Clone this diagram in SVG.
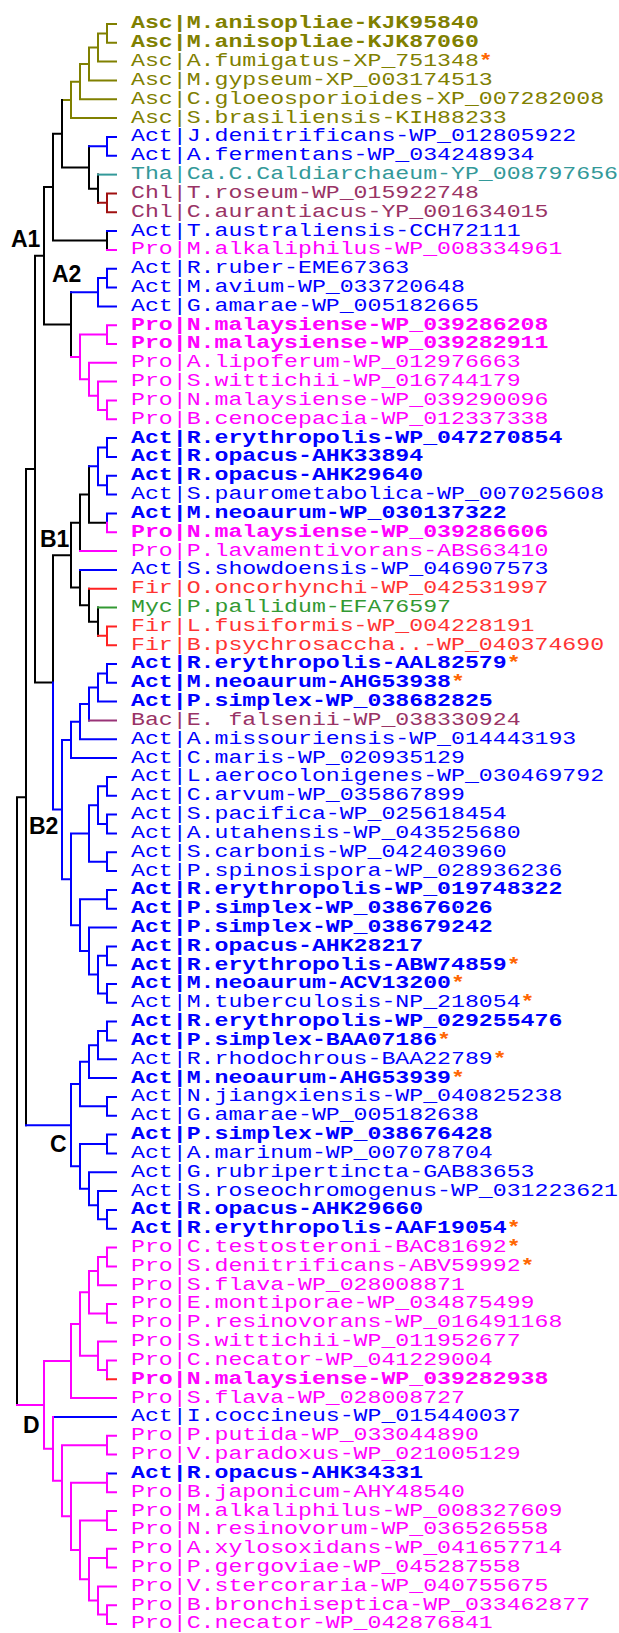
<svg xmlns="http://www.w3.org/2000/svg" width="619" height="1633" viewBox="0 0 619 1633">
<style>
.e{fill:none;stroke-width:2;stroke-linecap:square}
.k{stroke:#000}.ol{stroke:#808000}.bl{stroke:#0000ff}.mg{stroke:#ff00ff}.cr{stroke:#a01010}.tl{stroke:#339999}.rd{stroke:#ff2222}.gr{stroke:#339933}.pu{stroke:#993377}
.t{font-family:"Liberation Mono","DejaVu Sans Mono",monospace;font-size:18px}
.b{font-weight:bold}
.asc{fill:#808000}.act{fill:#0000ff}.pro{fill:#ff00ff}.tha{fill:#339999}.chl{fill:#993366}.fir{fill:#ff3333}.myc{fill:#339933}.bac{fill:#993366}
.s{fill:#ff6600;font-weight:bold}
.lab{font-family:"Liberation Sans Narrow","Liberation Sans",Arial,sans-serif;font-weight:bold;font-size:23px;fill:#000}
</style>
<rect width="619" height="1633" fill="#fff"/>
<g id="connectors">
<path class="e ol" d="M107 24V42.8M98 33.4V61.6M89 47.5V80.5M80 64V99.3M71 81.65V118.1M107 24H116M107 42.8H116M98 33.4H107M98 61.6H116M89 47.5H98M89 80.5H116M80 64H89M80 99.3H116M71 81.65H80M71 118.1H116M62 99.9H71"/>
<path class="e k" d="M62 99.9V167.5M62 167.5H89M89 146.35V188.7M89 188.7H98M98 174.6V202.8M53 133.7V240.5M53 133.7H62M53 240.5H107M107 231.1V249.9M44 187.1V324.6M44 187.1H53M44 324.6H71M71 292.25V356.95M35 255.85V682.4M35 255.85H44M35 682.4H53M53 555.2V682.4M53 555.2H71M71 522.85V587.55M71 522.85H80M80 494.6V551.1M80 494.6H89M89 466.35V522.8M89 522.8H107M71 587.55H80M80 569.9V605.2M80 605.2H89M89 588.7V621.65M89 621.65H98M98 607.5V635.8M26 469.1V1125.2M26 469.1H35M17 797.15V1404.95M17 797.15H26"/>
<path class="e bl" d="M89 146.35H107M107 136.9V155.8M107 136.9H116M107 155.8H116M107 231.1H116
M71 292.25H98M98 278.1V306.4M98 278.1H107M107 268.7V287.5M107 268.7H116M107 287.5H116M98 306.4H116
M89 466.35H98M98 447.5V485.2M98 447.5H107M98 485.2H107M107 438.1V456.9M107 475.8V494.6M107 438.1H116M107 456.9H116M107 475.8H116M107 494.6H116M107 513.4V522.8M107 513.4H116M80 569.9H116
M53 682.4V809.6M53 809.6H62M62 739.9V879.3M62 739.9H71M62 879.3H71
M71 721.65V758.1M71 721.65H80M71 758.1H116M80 704V739.3M80 704H89M80 739.3H116M89 687.5V720.5M89 687.5H98M98 673.4V701.6M98 673.4H107M98 701.6H116M107 664V682.8M107 664H116M107 682.8H116
M71 833.4V925.2M71 833.4H89M71 925.2H80M89 805.2V861.65M89 805.2H98M89 861.65H107M98 786.35V824M98 786.35H107M98 824H107M107 776.9V795.8M107 776.9H116M107 795.8H116M107 814.6V833.4M107 814.6H116M107 833.4H116M107 852.2V871.1M107 852.2H116M107 871.1H116
M80 899.3V951.05M80 899.3H107M80 951.05H89M107 889.9V908.7M107 889.9H116M107 908.7H116M89 927.5V974.6M89 927.5H116M89 974.6H98M98 955.8V993.4M98 955.8H107M98 993.4H107M107 946.4V965.2M107 946.4H116M107 965.2H116M107 984V1002.8M107 984H116M107 1002.8H116
M26 1125.2H71M71 1084V1166.35M71 1084H80M71 1166.35H80M80 1061.65V1106.35M80 1061.65H89M80 1106.35H107M89 1045.2V1078.1M89 1045.2H98M89 1078.1H116M98 1031.05V1059.3M98 1031.05H107M98 1059.3H116M107 1021.6V1040.5M107 1021.6H116M107 1040.5H116M107 1096.9V1115.8M107 1096.9H116M107 1115.8H116
M80 1144V1188.7M80 1144H107M80 1188.7H89M107 1134.6V1153.4M107 1134.6H116M107 1153.4H116M89 1172.2V1205.2M89 1172.2H116M89 1205.2H98M98 1191.1V1219.3M98 1191.1H116M98 1219.3H107M107 1209.9V1228.7M107 1209.9H116M107 1228.7H116
M53 1416.9H116M107 1473.4H116"/>
<path class="e mg" d="M107 249.9H116M71 356.95H80M80 334.6V379.3M80 334.6H107M107 325.2V344M107 325.2H116M107 344H116M80 379.3H89M89 362.8V395.75M89 362.8H116M89 395.75H98M98 381.6V409.9M98 381.6H116M98 409.9H107M107 400.5V419.3M107 400.5H116M107 419.3H116
M107 522.8V532.2M107 532.2H116M80 551.1H116
M17 1404.95H44M44 1361.05V1448.85M44 1361.05H71M44 1448.85H53M71 1324V1398.1M71 1324H80M71 1398.1H116M80 1292.25V1355.75M80 1292.25H89M80 1355.75H98M89 1271.1V1313.4M89 1271.1H98M89 1313.4H107M98 1256.95V1285.2M98 1256.95H107M98 1285.2H116M107 1247.5V1266.4M107 1247.5H116M107 1266.4H116M107 1304V1322.8M107 1304H116M107 1322.8H116M98 1341.6V1369.9M98 1341.6H116M98 1369.9H107M107 1360.5V1379.3M107 1360.5H116
M53 1416.9V1480.8M53 1480.8H62M62 1445.2V1516.35M62 1445.2H107M62 1516.35H71M107 1435.8V1454.6M107 1435.8H116M107 1454.6H116M71 1482.8V1549.9M71 1482.8H107M71 1549.9H80M107 1473.4V1492.2M107 1492.2H116M80 1520.5V1579.3M80 1520.5H107M80 1579.3H89M107 1511.1V1529.9M107 1511.1H116M107 1529.9H116M89 1558.1V1600.5M89 1558.1H107M89 1600.5H98M107 1548.7V1567.5M107 1548.7H116M107 1567.5H116M98 1586.4V1614.6M98 1586.4H116M98 1614.6H107M107 1605.2V1624M107 1605.2H116M107 1624H116"/>
<path class="e cr" d="M98 202.8H107M107 193.4V212.2M107 193.4H116M107 212.2H116"/>
<path class="e tl" d="M98 174.6H116"/>
<path class="e rd" d="M89 588.7H116M98 635.8H107M107 626.4V645.2M107 626.4H116M107 645.2H116M107 1379.3H116"/>
<path class="e gr" d="M98 607.5H116"/>
<path class="e pu" d="M89 720.5H116"/>
</g>
<g id="clade-labels">
<g id="label-A1"><text class="lab" x="11" y="247">A1</text></g>
<g id="label-A2"><text class="lab" x="52" y="282">A2</text></g>
<g id="label-B1"><text class="lab" x="40" y="547">B1</text></g>
<g id="label-B2"><text class="lab" x="29" y="834">B2</text></g>
<g id="label-C"><text class="lab" x="50" y="1152">C</text></g>
<g id="label-D"><text class="lab" x="23" y="1433">D</text></g>
</g>
<g id="leaves" transform="translate(131 0) scale(1.289 1)">
<g id="leaf1"><text class="t b asc" y="28.5">Asc|M.anisopliae-KJK95840</text></g>
<g id="leaf2"><text class="t b asc" y="47.3">Asc|M.anisopliae-KJK87060</text></g>
<g id="leaf3"><text class="t asc" y="66.1">Asc|A.fumigatus-XP_751348<tspan class="s">*</tspan></text></g>
<g id="leaf4"><text class="t asc" y="85">Asc|M.gypseum-XP_003174513</text></g>
<g id="leaf5"><text class="t asc" y="103.8">Asc|C.gloeosporioides-XP_007282008</text></g>
<g id="leaf6"><text class="t asc" y="122.6">Asc|S.brasiliensis-KIH88233</text></g>
<g id="leaf7"><text class="t act" y="141.4">Act|J.denitrificans-WP_012805922</text></g>
<g id="leaf8"><text class="t act" y="160.3">Act|A.fermentans-WP_034248934</text></g>
<g id="leaf9"><text class="t tha" y="179.1">Tha|Ca.C.Caldiarchaeum-YP_008797656</text></g>
<g id="leaf10"><text class="t chl" y="197.9">Chl|T.roseum-WP_015922748</text></g>
<g id="leaf11"><text class="t chl" y="216.7">Chl|C.aurantiacus-YP_001634015</text></g>
<g id="leaf12"><text class="t act" y="235.6">Act|T.australiensis-CCH72111</text></g>
<g id="leaf13"><text class="t pro" y="254.4">Pro|M.alkaliphilus-WP_008334961</text></g>
<g id="leaf14"><text class="t act" y="273.2">Act|R.ruber-EME67363</text></g>
<g id="leaf15"><text class="t act" y="292">Act|M.avium-WP_033720648</text></g>
<g id="leaf16"><text class="t act" y="310.9">Act|G.amarae-WP_005182665</text></g>
<g id="leaf17"><text class="t b pro" y="329.7">Pro|N.malaysiense-WP_039286208</text></g>
<g id="leaf18"><text class="t b pro" y="348.5">Pro|N.malaysiense-WP_039282911</text></g>
<g id="leaf19"><text class="t pro" y="367.3">Pro|A.lipoferum-WP_012976663</text></g>
<g id="leaf20"><text class="t pro" y="386.1">Pro|S.wittichii-WP_016744179</text></g>
<g id="leaf21"><text class="t pro" y="405">Pro|N.malaysiense-WP_039290096</text></g>
<g id="leaf22"><text class="t pro" y="423.8">Pro|B.cenocepacia-WP_012337338</text></g>
<g id="leaf23"><text class="t b act" y="442.6">Act|R.erythropolis-WP_047270854</text></g>
<g id="leaf24"><text class="t b act" y="461.4">Act|R.opacus-AHK33894</text></g>
<g id="leaf25"><text class="t b act" y="480.3">Act|R.opacus-AHK29640</text></g>
<g id="leaf26"><text class="t act" y="499.1">Act|S.paurometabolica-WP_007025608</text></g>
<g id="leaf27"><text class="t b act" y="517.9">Act|M.neoaurum-WP_030137322</text></g>
<g id="leaf28"><text class="t b pro" y="536.7">Pro|N.malaysiense-WP_039286606</text></g>
<g id="leaf29"><text class="t pro" y="555.6">Pro|P.lavamentivorans-ABS63410</text></g>
<g id="leaf30"><text class="t act" y="574.4">Act|S.showdoensis-WP_046907573</text></g>
<g id="leaf31"><text class="t fir" y="593.2">Fir|O.oncorhynchi-WP_042531997</text></g>
<g id="leaf32"><text class="t myc" y="612">Myc|P.pallidum-EFA76597</text></g>
<g id="leaf33"><text class="t fir" y="630.9">Fir|L.fusiformis-WP_004228191</text></g>
<g id="leaf34"><text class="t fir" y="649.7">Fir|B.psychrosaccha..-WP_040374690</text></g>
<g id="leaf35"><text class="t b act" y="668.5">Act|R.erythropolis-AAL82579<tspan class="s">*</tspan></text></g>
<g id="leaf36"><text class="t b act" y="687.3">Act|M.neoaurum-AHG53938<tspan class="s">*</tspan></text></g>
<g id="leaf37"><text class="t b act" y="706.1">Act|P.simplex-WP_038682825</text></g>
<g id="leaf38"><text class="t bac" y="725">Bac|E. falsenii-WP_038330924</text></g>
<g id="leaf39"><text class="t act" y="743.8">Act|A.missouriensis-WP_014443193</text></g>
<g id="leaf40"><text class="t act" y="762.6">Act|C.maris-WP_020935129</text></g>
<g id="leaf41"><text class="t act" y="781.4">Act|L.aerocolonigenes-WP_030469792</text></g>
<g id="leaf42"><text class="t act" y="800.3">Act|C.arvum-WP_035867899</text></g>
<g id="leaf43"><text class="t act" y="819.1">Act|S.pacifica-WP_025618454</text></g>
<g id="leaf44"><text class="t act" y="837.9">Act|A.utahensis-WP_043525680</text></g>
<g id="leaf45"><text class="t act" y="856.7">Act|S.carbonis-WP_042403960</text></g>
<g id="leaf46"><text class="t act" y="875.6">Act|P.spinosispora-WP_028936236</text></g>
<g id="leaf47"><text class="t b act" y="894.4">Act|R.erythropolis-WP_019748322</text></g>
<g id="leaf48"><text class="t b act" y="913.2">Act|P.simplex-WP_038676026</text></g>
<g id="leaf49"><text class="t b act" y="932">Act|P.simplex-WP_038679242</text></g>
<g id="leaf50"><text class="t b act" y="950.9">Act|R.opacus-AHK28217</text></g>
<g id="leaf51"><text class="t b act" y="969.7">Act|R.erythropolis-ABW74859<tspan class="s">*</tspan></text></g>
<g id="leaf52"><text class="t b act" y="988.5">Act|M.neoaurum-ACV13200<tspan class="s">*</tspan></text></g>
<g id="leaf53"><text class="t act" y="1007.3">Act|M.tuberculosis-NP_218054<tspan class="s">*</tspan></text></g>
<g id="leaf54"><text class="t b act" y="1026.1">Act|R.erythropolis-WP_029255476</text></g>
<g id="leaf55"><text class="t b act" y="1045">Act|P.simplex-BAA07186<tspan class="s">*</tspan></text></g>
<g id="leaf56"><text class="t act" y="1063.8">Act|R.rhodochrous-BAA22789<tspan class="s">*</tspan></text></g>
<g id="leaf57"><text class="t b act" y="1082.6">Act|M.neoaurum-AHG53939<tspan class="s">*</tspan></text></g>
<g id="leaf58"><text class="t act" y="1101.4">Act|N.jiangxiensis-WP_040825238</text></g>
<g id="leaf59"><text class="t act" y="1120.3">Act|G.amarae-WP_005182638</text></g>
<g id="leaf60"><text class="t b act" y="1139.1">Act|P.simplex-WP_038676428</text></g>
<g id="leaf61"><text class="t act" y="1157.9">Act|A.marinum-WP_007078704</text></g>
<g id="leaf62"><text class="t act" y="1176.7">Act|G.rubripertincta-GAB83653</text></g>
<g id="leaf63"><text class="t act" y="1195.6">Act|S.roseochromogenus-WP_031223621</text></g>
<g id="leaf64"><text class="t b act" y="1214.4">Act|R.opacus-AHK29660</text></g>
<g id="leaf65"><text class="t b act" y="1233.2">Act|R.erythropolis-AAF19054<tspan class="s">*</tspan></text></g>
<g id="leaf66"><text class="t pro" y="1252">Pro|C.testosteroni-BAC81692<tspan class="s">*</tspan></text></g>
<g id="leaf67"><text class="t pro" y="1270.9">Pro|S.denitrificans-ABV59992<tspan class="s">*</tspan></text></g>
<g id="leaf68"><text class="t pro" y="1289.7">Pro|S.flava-WP_028008871</text></g>
<g id="leaf69"><text class="t pro" y="1308.5">Pro|E.montiporae-WP_034875499</text></g>
<g id="leaf70"><text class="t pro" y="1327.3">Pro|P.resinovorans-WP_016491168</text></g>
<g id="leaf71"><text class="t pro" y="1346.1">Pro|S.wittichii-WP_011952677</text></g>
<g id="leaf72"><text class="t pro" y="1365">Pro|C.necator-WP_041229004</text></g>
<g id="leaf73"><text class="t b pro" y="1383.8">Pro|N.malaysiense-WP_039282938</text></g>
<g id="leaf74"><text class="t pro" y="1402.6">Pro|S.flava-WP_028008727</text></g>
<g id="leaf75"><text class="t act" y="1421.4">Act|I.coccineus-WP_015440037</text></g>
<g id="leaf76"><text class="t pro" y="1440.3">Pro|P.putida-WP_033044890</text></g>
<g id="leaf77"><text class="t pro" y="1459.1">Pro|V.paradoxus-WP_021005129</text></g>
<g id="leaf78"><text class="t b act" y="1477.9">Act|R.opacus-AHK34331</text></g>
<g id="leaf79"><text class="t pro" y="1496.7">Pro|B.japonicum-AHY48540</text></g>
<g id="leaf80"><text class="t pro" y="1515.6">Pro|M.alkaliphilus-WP_008327609</text></g>
<g id="leaf81"><text class="t pro" y="1534.4">Pro|N.resinovorum-WP_036526558</text></g>
<g id="leaf82"><text class="t pro" y="1553.2">Pro|A.xylosoxidans-WP_041657714</text></g>
<g id="leaf83"><text class="t pro" y="1572">Pro|P.gergoviae-WP_045287558</text></g>
<g id="leaf84"><text class="t pro" y="1590.9">Pro|V.stercoraria-WP_040755675</text></g>
<g id="leaf85"><text class="t pro" y="1609.7">Pro|B.bronchiseptica-WP_033462877</text></g>
<g id="leaf86"><text class="t pro" y="1628.5">Pro|C.necator-WP_042876841</text></g>
</g>
</svg>
